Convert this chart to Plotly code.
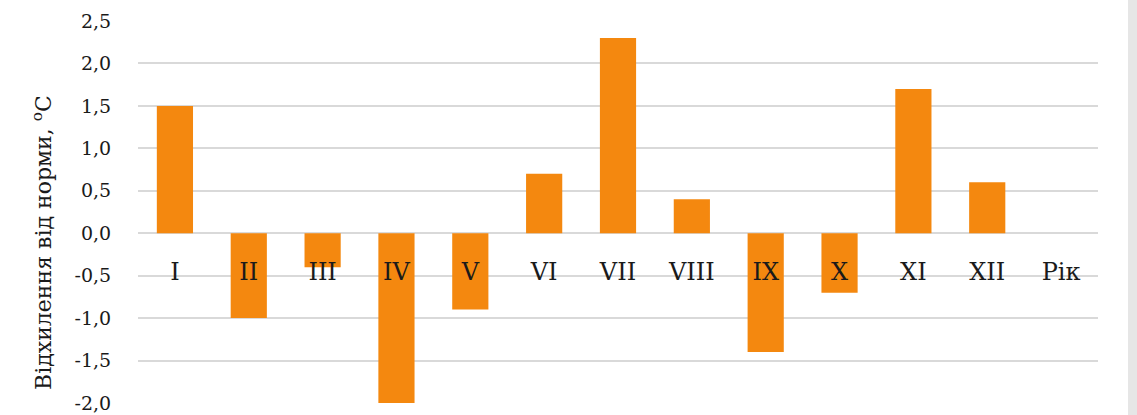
import plotly.graph_objects as go

categories = ["I", "II", "III", "IV", "V", "VI", "VII", "VIII", "IX", "X", "XI", "XII", "Рік"]
values = [1.5, -1.0, -0.4, -2.0, -0.9, 0.7, 2.3, 0.4, -1.4, -0.7, 1.7, 0.6, None]
y_tickvals = [-2.0, -1.5, -1.0, -0.5, 0.0, 0.5, 1.0, 1.5, 2.0, 2.5]
y_ticktext = ["-2,0", "-1,5", "-1,0", "-0,5", "0,0", "0,5", "1,0", "1,5", "2,0", "2,5"]
y_title = "Відхилення від норми, <sup>o</sup>C"

font_family = "DejaVu Serif, Liberation Serif, serif"
ymin, ymax = -2.0, 2.5
L, T, B, R = 138, 21, 12, 39
W, H = 1137, 415
plot_h = H - T - B
plot_w = W - L - R

fig = go.Figure()
fig.add_trace(go.Bar(
    x=categories, y=values,
    marker=dict(color="#F4880F", line=dict(width=0)),
    hoverinfo="x+y",
))

fig.update_layout(
    width=W, height=H,
    margin=dict(l=L, r=R, t=T, b=B, autoexpand=False),
    paper_bgcolor="white", plot_bgcolor="white",
    bargap=0.51,
    showlegend=False,
    font=dict(family=font_family, size=20, color="#1A1A1A"),
    xaxis=dict(
        type="category",
        anchor="free",
        position=(0 - ymin) / (ymax - ymin),
        automargin=False,
        showgrid=False, zeroline=False, showline=False,
        ticks="outside", ticklen=17, tickcolor="rgba(0,0,0,0)",
        tickfont=dict(family=font_family, size=24, color="#1A1A1A"),
    ),
    yaxis=dict(
        range=[ymin, ymax],
        automargin=False,
        tickvals=y_tickvals, ticktext=y_ticktext,
        showgrid=True, gridcolor="#D9D9D9", gridwidth=1.5,
        zeroline=True, zerolinecolor="#D9D9D9", zerolinewidth=1.5,
        showline=False,
        ticks="outside", ticklen=22, tickcolor="rgba(0,0,0,0)",
        tickfont=dict(family=font_family, size=19, color="#1A1A1A"),
    ),
)

# y-axis title (placed as in the reference, lower than plot centre)
fig.add_annotation(
    text=y_title, textangle=-90, showarrow=False,
    xref="paper", yref="paper",
    x=(42 - L) / plot_w, y=(H - B - 243) / plot_h,
    xanchor="center", yanchor="middle",
    font=dict(family=font_family, size=22, color="#1A1A1A"),
)

# light decorative strip at the right edge
fig.add_shape(type="rect", xref="paper", yref="paper",
              x0=(1128 - L) / plot_w, x1=(1140 - L) / plot_w, y0=-0.1, y1=1.1,
              fillcolor="#E6E6E6", line=dict(width=0), layer="below")

fig.write_html("out.html", config={"displayModeBar": False},
               post_script="document.body.style.margin='0px';document.body.style.padding='0px';")
